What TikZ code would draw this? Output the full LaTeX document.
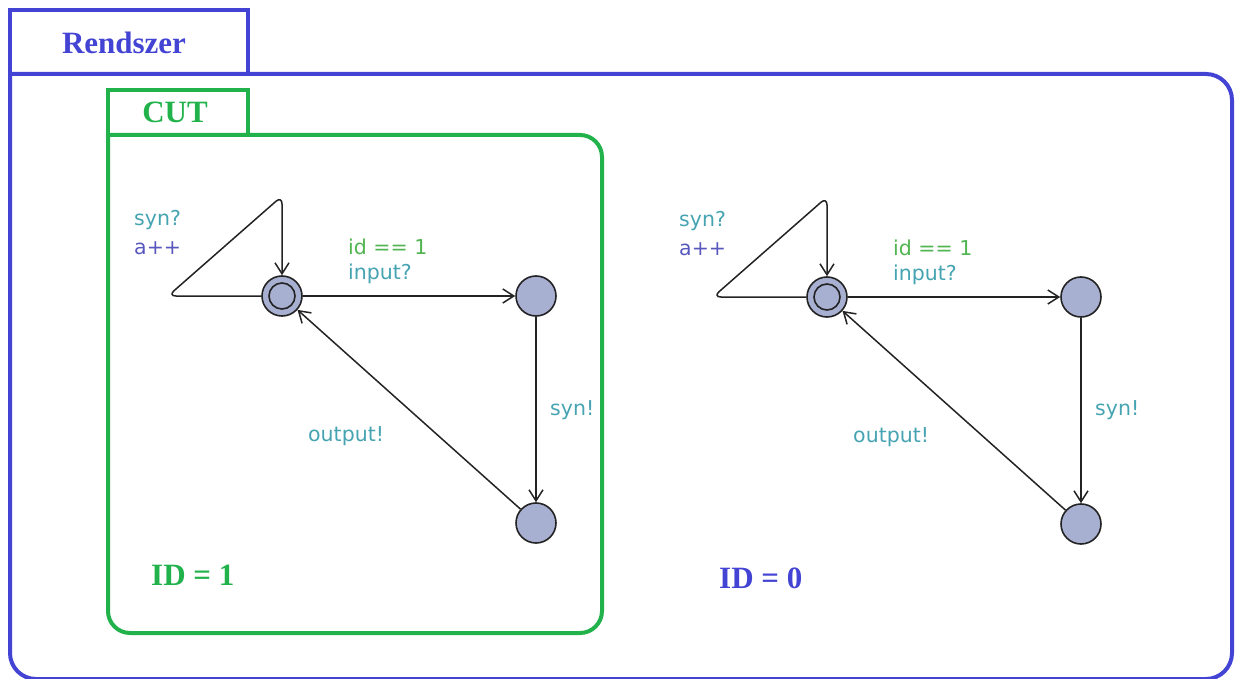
\documentclass[tikz,border=0pt]{standalone}
\usepackage{fontspec}
\setmainfont{Liberation Serif}
\newfontfamily\lblfont{DejaVu Sans}
\usetikzlibrary{arrows.meta}

\definecolor{sysblue}{RGB}{68,68,212}
\definecolor{cutgreen}{RGB}{34,178,76}
\definecolor{locfill}{RGB}{168,176,210}
\definecolor{synccol}{RGB}{70,164,178}
\definecolor{guardcol}{RGB}{80,180,80}
\definecolor{assigncol}{RGB}{88,88,190}
\definecolor{edgecol}{RGB}{35,35,35}

\tikzset{
  headtext/.style={font=\bfseries\fontsize{31}{36}\selectfont, inner sep=0pt},
  lbl/.style={font=\lblfont\fontsize{20.5}{24}\selectfont, inner sep=0pt, anchor=west},
  loc/.style={circle, draw=edgecol, fill=locfill, line width=1.6pt, minimum size=40pt, inner sep=0pt},
  initmark/.style={circle, draw=edgecol, line width=1.6pt, minimum size=26pt, inner sep=0pt},
  edge/.style={draw=edgecol, line width=1.5pt, -{Straight Barb[length=11pt,width=14pt,line width=1.5pt]}},
  frame/.style={line width=4pt},
}

\begin{document}
\begin{tikzpicture}[x=1pt,y=-1pt]
\useasboundingbox (0,0) rectangle (1240,679);

% system frame with its title tab
\draw[frame, sysblue] (10,74) -- (10,10) -- (248,10) -- (248,74);
\draw[frame, sysblue] (10,74) [rounded corners=26pt] -- (1232,74) -- (1232,679) -- (10,679) [sharp corners] -- cycle;
\node[headtext, text=sysblue] (systitle) at (124,43) {Rendszer};

% component under test frame
\draw[frame, cutgreen] (108,135) -- (108,90) -- (248,90) -- (248,135);
\draw[frame, cutgreen] (108,135) [rounded corners=22pt] -- (602,135) -- (602,633) -- (108,633) [sharp corners] -- cycle;
\node[headtext, text=cutgreen] (cuttitle) at (175,112) {CUT};

% automaton inside CUT
\node[loc] (a0) at (282,296) {};
\node[initmark] (a0i) at (a0) {};
\node[loc] (a1) at (536,296) {};
\node[loc] (a2) at (536,523) {};
\coordinate (aloopL) at (168,296);
\coordinate (aloopT) at (282,196);
\draw[edge, rounded corners=8pt] (a0.west) -- (aloopL) -- (aloopT) -- (a0.north);
\draw[edge] (a0) -- (a1);
\draw[edge] (a1) -- (a2);
\draw[edge] (a2) -- (a0);
\node[lbl, text=synccol] (asyn) at (134,220) {syn?};
\node[lbl, text=assigncol] (ainc) at (134,248) {a++};
\node[lbl, text=guardcol] (aguard) at (348,247) {id == 1};
\node[lbl, text=synccol] (ain) at (348,274) {input?};
\node[lbl, text=synccol] (asend) at (550,410) {syn!};
\node[lbl, text=synccol] (aout) at (308,436) {output!};
\node[headtext, text=cutgreen, anchor=west] (aid) at (151,575) {ID = 1};

% second automaton
\node[loc] (b0) at (827,297) {};
\node[initmark] (b0i) at (b0) {};
\node[loc] (b1) at (1081,297) {};
\node[loc] (b2) at (1081,524) {};
\coordinate (bloopL) at (713,297);
\coordinate (bloopT) at (827,197);
\draw[edge, rounded corners=8pt] (b0.west) -- (bloopL) -- (bloopT) -- (b0.north);
\draw[edge] (b0) -- (b1);
\draw[edge] (b1) -- (b2);
\draw[edge] (b2) -- (b0);
\node[lbl, text=synccol] (bsyn) at (679,221) {syn?};
\node[lbl, text=assigncol] (binc) at (679,249) {a++};
\node[lbl, text=guardcol] (bguard) at (893,248) {id == 1};
\node[lbl, text=synccol] (bin) at (893,275) {input?};
\node[lbl, text=synccol] (bsend) at (1095,410) {syn!};
\node[lbl, text=synccol] (bout) at (853,437) {output!};
\node[headtext, text=sysblue, anchor=west] (bid) at (719,578) {ID = 0};
\end{tikzpicture}
\end{document}
